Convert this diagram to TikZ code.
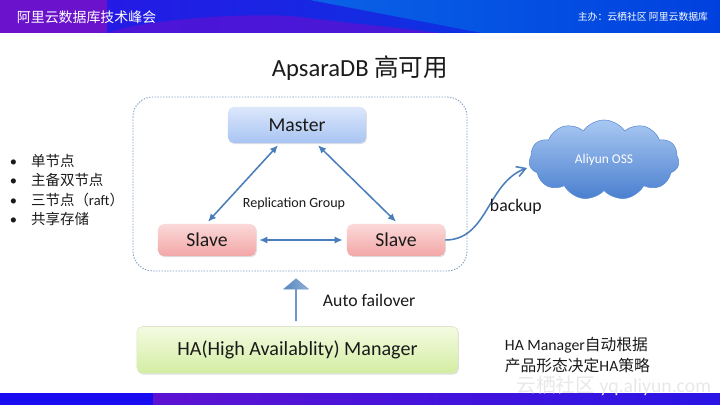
\documentclass[tikz,border=0pt]{standalone}
\usepackage{fontspec}
\setmainfont{Carlito}
\newfontfamily\cjk{Noto Sans CJK SC}
\usetikzlibrary{arrows.meta,calc,shapes.symbols,shapes.arrows,shadows}
\definecolor{ink}{HTML}{1A1A1A}
\definecolor{link}{HTML}{4A7EBB}
\definecolor{frame}{HTML}{7C9CC6}
\definecolor{bannerA}{HTML}{6A12CC}
\definecolor{bannerB}{HTML}{2A14E6}
\definecolor{bannerC}{HTML}{0A62E6}
\definecolor{bannerD}{HTML}{0040DF}
\definecolor{masterT}{HTML}{DCE7FB}
\definecolor{masterB}{HTML}{A8C4F2}
\definecolor{slaveT}{HTML}{FBD9D9}
\definecolor{slaveB}{HTML}{F3A6A6}
\definecolor{haT}{HTML}{F4FBE2}
\definecolor{haB}{HTML}{D3EDA2}
\definecolor{ossT}{HTML}{A9C8F2}
\definecolor{ossB}{HTML}{4A7FCF}

\begin{document}
\begin{tikzpicture}[x=0.025cm,y=-0.025cm,font=\fontsize{12.6}{15}\selectfont,text=ink,
    box/.style={rounded corners=4pt,draw=none,align=center,font=\fontsize{14}{16}\selectfont,
      drop shadow={shadow xshift=0.6pt,shadow yshift=-0.8pt,opacity=0.25}},
    sync/.style={{Latex[length=2mm,width=1.8mm]}-{Latex[length=2mm,width=1.8mm]},link,line width=1.1pt},
    bullet/.style={anchor=west,font=\fontsize{10.3}{12}\selectfont}]
  \useasboundingbox (0,0) rectangle (720,405);

  % header and footer bands
  \shade[left color=bannerB,right color=bannerD] (0,0) rectangle (720,33);
  \shade[left color=bannerC,right color=bannerD] (310,0) -- (720,0) -- (720,33) -- (482,33) -- cycle;
  \fill[bannerA] (0,0) rectangle (107,33);
  \fill[bannerA!70!bannerB,opacity=0.8] (107,33) .. controls (150,18) and (260,12) .. (300,17)
    .. controls (340,22) and (400,28) .. (440,33) -- cycle;
  \node[anchor=west,text=white,font=\cjk\fontsize{9.9}{11}\selectfont] (event) at (12,17) {阿里云数据库技术峰会};
  \node[anchor=east,text=white,font=\cjk\fontsize{7}{8}\selectfont] (host) at (713,17) {主办：云栖社区 阿里云数据库};
  \fill[bannerB!60!blue] (0,393) rectangle (153,405);
  \shade[left color=bannerA!80!bannerB,right color=bannerB] (153,393) rectangle (720,405);

  \node[font=\fontsize{17.5}{20}\selectfont] (title) at (360,68) {ApsaraDB {\cjk 高可用}};

  % replication group
  \draw[frame,rounded corners=14pt,dash pattern=on 1pt off 1pt,line width=0.6pt]
    (133,97) rectangle (467,271);
  \node[box,top color=masterT,bottom color=masterB,minimum width=3.45cm,minimum height=0.9cm]
    (master) at (297,125) {Master};
  \node[box,top color=slaveT,bottom color=slaveB,minimum width=2.45cm,minimum height=0.8cm]
    (slaveL) at (207,240) {Slave};
  \node[box,top color=slaveT,bottom color=slaveB,minimum width=2.45cm,minimum height=0.8cm]
    (slaveR) at (396,240) {Slave};
  \node[font=\fontsize{10}{12}\selectfont] (group) at (294,204) {Replication Group};

  \draw[sync] ($(master.south)+(-19,2)$) -- ($(slaveL.north)+(1,-2)$);
  \draw[sync] ($(master.south)+(21,2)$) -- ($(slaveR.north)+(0,-2)$);
  \draw[sync] ($(slaveL.east)+(3,0)$) -- ($(slaveR.west)+(-4,0)$);

  % backup to OSS
  \node[cloud,cloud puffs=11,cloud puff arc=110,aspect=2,top color=ossT,bottom color=ossB,
    draw=ossB!90,minimum width=3.75cm,minimum height=2cm,text=white,
    font=\fontsize{9.5}{11}\selectfont] (oss) at (604,160) {Aliyun OSS};
  \draw[link,line width=1.1pt,-{Straight Barb[length=2.2mm,width=2.6mm]}]
    (slaveR.east) to[out=0,in=200] ($(oss.west)+(-2,8)$);
  \node[anchor=west] (backup) at (485,207) {backup};

  % failover
  \node[box,top color=haT,bottom color=haB,draw=haB!80!black!40,minimum width=8.025cm,minimum height=1.175cm,
    font=\fontsize{14.3}{17}\selectfont] (ha) at (297.5,350) {HA(High Availablity) Manager};
  \node[single arrow,shape border rotate=90,minimum height=1.05cm,minimum width=0.62cm,
    single arrow head extend=0.16cm,single arrow tip angle=100,inner sep=0pt,
    left color=link!95,right color=link!60,draw=link!80] (up) at (296,300) {};
  \node[anchor=west] (failover) at (318,300) {Auto failover};
  \node[anchor=west,align=left,font=\fontsize{11.2}{14.5}\selectfont] (policy) at (500,355)
    {HA Manager{\cjk 自动根据}\\{\cjk 产品形态决定}HA{\cjk 策略}};

  % product forms
  \foreach \t [count=\i] in {{\cjk 单节点},{\cjk 主备双节点},{\cjk 三节点（}raft{\cjk ）},{\cjk 共享存储}}
    \node[bullet] (form\i) at (5,161+19.3*\i-19.3) {\makebox[15pt][l]{\textbullet}\t};

  % watermark
  \node[anchor=east,text=gray!18,font=\fontsize{14}{16}\selectfont] (mark) at (716,386)
    {{\cjk 云栖社区} yq.aliyun.com};
\end{tikzpicture}
\end{document}
